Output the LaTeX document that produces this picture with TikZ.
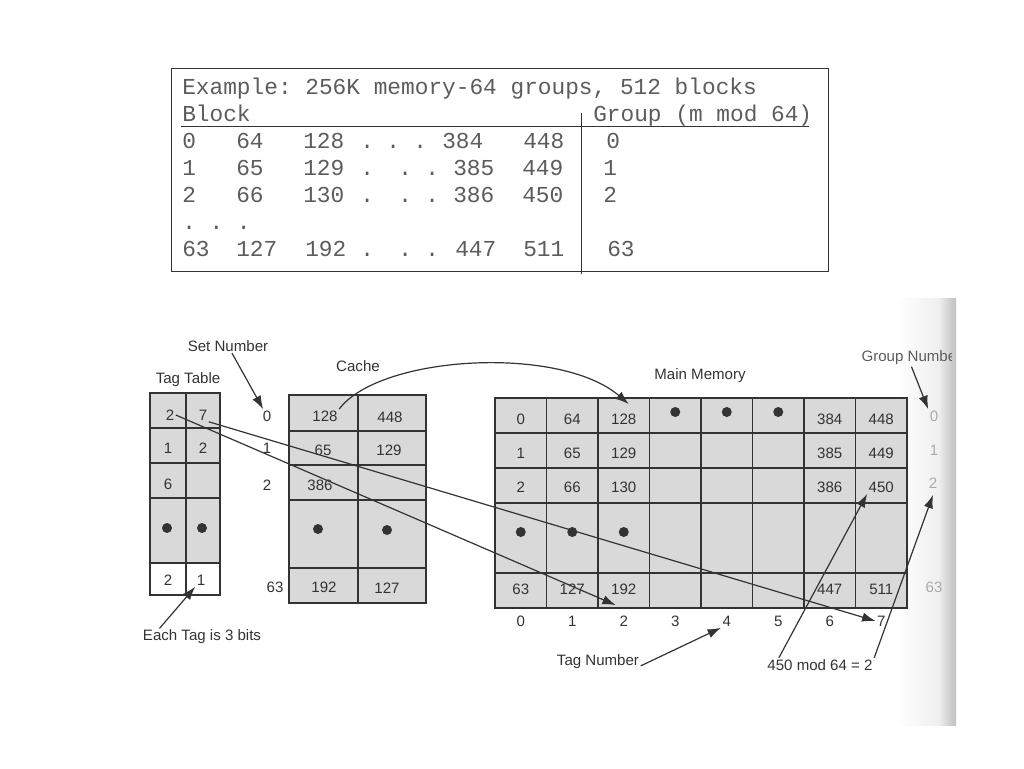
\documentclass[tikz,border=0pt]{standalone}
\usepackage{fontspec}
\setmainfont{Liberation Sans}
\setmonofont{Liberation Mono}
\usepackage{tikz}
\usetikzlibrary{arrows.meta, positioning, calc}
\definecolor{ink}{HTML}{333333}
\definecolor{cellgray}{HTML}{D9D9D9}
\definecolor{fadegray}{HTML}{ABABAB}
\tikzset{
	mono/.style={
		font=\fontsize{17.1}{20}\ttfamily,
		text=ink!80,
		inner sep=0pt,
		anchor=base west
	},
	lbl/.style={
		font=\fontsize{11.3}{13}\selectfont,
		text=ink,
		inner sep=1pt
	},
	cellbox/.style={
		draw=ink,
		fill=cellgray,
		line width=1pt
	},
	pointer/.style={
		-{Latex[length=10pt, width=7pt]},
		draw=ink,
		line width=0.9pt
	}
}

\begin{document}
\begin{tikzpicture}[x=0.75pt, y=-0.75pt]
		\useasboundingbox (0,0) rectangle (1024,768);
		
		%--- Tableau de l'exemple (haut) ---
		\draw[ink, line width=0.7pt] (171,68) rectangle (828,271);
		\draw[ink, line width=0.7pt] (181,126) -- (809,126);
		\draw[ink, line width=0.7pt] (581,113) -- (581,274);
		\node[mono] (title) at (182,94) {Example: 256K memory-64 groups, 512 blocks};
		\node[mono] (hblock) at (182,121) {Block};
		\node[mono] (hgroup) at (593,121) {Group (m mod 64)};
		
		% lignes 0, 1, 2, ..., 63
		\foreach \x/\t [count=\i] in {182/0, 236/64, 303/128, 360/., 386/., 413/., 442/384, 523/448, 606/0}
			\node[mono] (ra\i) at (\x,148) {\t};
		\foreach \x/\t [count=\i] in {182/1, 236/65, 303/129, 360/., 398/., 425/., 453/385, 522/449, 603/1}
			\node[mono] (rb\i) at (\x,175) {\t};
		\foreach \x/\t [count=\i] in {182/2, 236/66, 303/130, 360/., 398/., 425/., 453/386, 522/450, 603/2}
			\node[mono] (rc\i) at (\x,202) {\t};
		\node[mono] (rdots) at (182,229) {.~.~.};
		\foreach \x/\t [count=\i] in {182/63, 236/127, 305/192, 360/., 398/., 425/., 455/447, 523/511, 607/63}
			\node[mono] (re\i) at (\x,256) {\t};
		
		%--- Bord de la page scannee (droite) ---
		\shade[left color=white, right color=gray!12] (895,298) rectangle (938,725);
		\shade[left color=gray!12, right color=gray!50] (938,298) rectangle (956,725);
		
		%--- Tag Table ---
		\node[lbl] (tagtitle) at (188,380) {Tag Table};
		\foreach \ya/\yb in {393/428, 428/463, 463/498, 498/563}
			\foreach \xa/\xb in {150/186, 186/220}
				\draw[cellbox] (\xa,\ya) rectangle (\xb,\yb);
		\foreach \xa/\xb in {150/186, 186/220}
			\draw[cellbox, fill=white] (\xa,563) rectangle (\xb,595);
		\node[lbl] (t00) at (170,415) {2};
		\node[lbl] (t01) at (203,415) {7};
		\node[lbl] (t10) at (168,448) {1};
		\node[lbl] (t11) at (203,448) {2};
		\node[lbl] (t20) at (168,484) {6};
		\fill[ink] (167,528) circle (5) (202,528) circle (5);
		\node[lbl] (t40) at (168,580) {2};
		\node[lbl] (t41) at (201,580) {1};
		\node[lbl] (eachlbl) at (202,637) {Each Tag is 3 bits};
		
		%--- Set Number ---
		\node[lbl] (setlbl) at (228,346) {Set Number};
		\node[lbl] (s0) at (267,416) {0};
		\node[lbl] (s1) at (267,448) {1};
		\node[lbl] (s2) at (267,485) {2};
		\node[lbl] (s63) at (275,587) {63};
		
		%--- Cache ---
		\node[lbl] (cachelbl) at (358,366) {Cache};
		\foreach \ya/\yb in {395/431, 431/465, 465/500, 500/568, 568/603}
			\foreach \xa/\xb in {289/358, 358/426}
				\draw[cellbox] (\xa,\ya) rectangle (\xb,\yb);
		\node[lbl] (c00) at (325,416) {128};
		\node[lbl] (c01) at (390,417) {448};
		\node[lbl] (c10) at (323,450) {65};
		\node[lbl] (c11) at (389,450) {129};
		\node[lbl] (c20) at (320,485) {386};
		\fill[ink] (318,529) circle (5) (387,530) circle (5);
		\node[lbl] (c40) at (324,587) {192};
		\node[lbl] (c41) at (387,588) {127};
		
		%--- Main Memory ---
		\node[lbl] (mmlbl) at (700,376) {Main Memory};
		\foreach \ya/\yb in {398/433, 433/468, 468/503, 503/573, 573/608}
			\foreach \c in {0,...,7}
				\draw[cellbox] ({495+51.5*\c},\ya) rectangle ({546.5+51.5*\c},\yb);
		\foreach \c/\t in {0/0, 1/64, 2/128, 6/384, 7/448}
			\node[lbl] (m0\c) at ({520.75+51.5*\c},419) {\t};
		\foreach \c/\t in {0/1, 1/65, 2/129, 6/385, 7/449}
			\node[lbl] (m1\c) at ({520.75+51.5*\c},453) {\t};
		\foreach \c/\t in {0/2, 1/66, 2/130, 6/386, 7/450}
			\node[lbl] (m2\c) at ({520.75+51.5*\c},487) {\t};
		\foreach \c/\t in {0/63, 1/127, 2/192, 6/447, 7/511}
			\node[lbl] (m4\c) at ({520.75+51.5*\c},589) {\t};
		\foreach \c in {3,4,5}
			\fill[ink] ({520.75+51.5*\c},412) circle (5);
		\foreach \c in {0,1,2}
			\fill[ink] ({520.75+51.5*\c},532) circle (5);
		
		% numeros de tag sous la memoire
		\foreach \c in {0,...,7}
			\node[lbl] (col\c) at ({520.75+51.5*\c},621) {\c};
		\node[lbl] (tagnum) at (598,662) {Tag Number};
		\node[lbl] (modlbl) at (820,665) {450 mod 64 = 2};
		
		%--- Group Number (coupe par le bord) ---
		\begin{scope}
			\clip (0,0) rectangle (951,768);
			\node[lbl, text=ink!80, anchor=west] (grouplbl) at (860,358) {Group Number};
		\end{scope}
		\node[lbl, text=fadegray] (g0) at (934,416) {0};
		\node[lbl, text=fadegray] (g1) at (934,450) {1};
		\node[lbl, text=fadegray] (g2) at (933,483) {2};
		\node[lbl, text=fadegray] (g63) at (934,587) {63};
		
		%--- Fleches ---
		\draw[pointer] (setlbl) -- (s0);
		\draw[pointer] ($(eachlbl.north west)!0.15!(eachlbl.north east)$) -- (t41.south west);
		\draw[pointer] (c00.north east) .. controls (380,355) and (560,345) .. ($(m02.north)+(5,-8)$);
		\coordinate (tipa) at ($(col2.north)+(-8,-9)$);
		\draw[pointer] (t00.east) -- (tipa);
		\draw[pointer] (t01.south east) -- (col7.west);
		\draw[pointer] (tagnum.base east) -- (col4.south west);
		\draw[pointer] ($(modlbl.north west)!0.12!(modlbl.north east)$) -- (m27.south west);
		\draw[pointer] (modlbl.north east) -- ($(g2.south)+(0,5)$);
		\draw[pointer] (grouplbl.south) -- (g0.north west);
	\end{tikzpicture}
\end{document}
